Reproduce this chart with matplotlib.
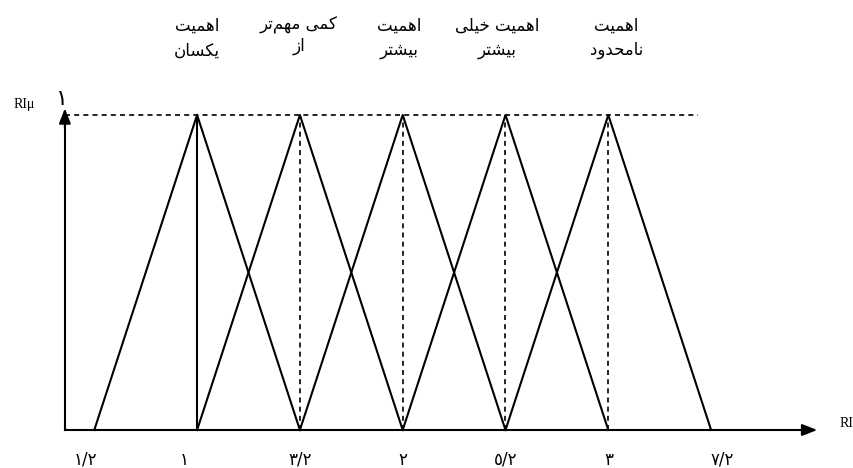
import matplotlib
matplotlib.use("Agg")
import matplotlib.pyplot as plt

# sommets des triangles et largeur a mi-hauteur
pics = [1.0, 1.5, 2.0, 2.5, 3.0]
demi = 0.5
ticks = [0.5, 1.0, 1.5, 2.0, 2.5, 3.0, 3.5]
tick_labels = ["۱/۲", "۱", "۳/۲", "۲", "٥/۲", "۳", "۷/۲"]
tick_decal = [-0.044, -0.063, 0.0, 0.0, 0.0, 0.005, 0.055]

# libelles du haut (ligne 1, ligne 2) et leur position x
titres_l1 = ["اهمیت", "کمی مهم‌تر", "اهمیت", "اهمیت خیلی", "اهمیت"]
titres_l2 = ["یکسان", "از", "بیشتر", "بیشتر", "نامحدود"]
titres_x = [1.0, 1.495, 1.985, 2.46, 3.04]

# formes: isolee, finale, initiale, mediane
FORMES = {
    'ا': ('\uFE8D', '\uFE8E', None, None),
    'ب': ('\uFE8F', '\uFE90', '\uFE91', '\uFE92'),
    'ت': ('\uFE95', '\uFE96', '\uFE97', '\uFE98'),
    'ح': ('\uFEA1', '\uFEA2', '\uFEA3', '\uFEA4'),
    'خ': ('\uFEA5', '\uFEA6', '\uFEA7', '\uFEA8'),
    'د': ('\uFEA9', '\uFEAA', None, None),
    'ر': ('\uFEAD', '\uFEAE', None, None),
    'ز': ('\uFEAF', '\uFEB0', None, None),
    'س': ('\uFEB1', '\uFEB2', '\uFEB3', '\uFEB4'),
    'ش': ('\uFEB5', '\uFEB6', '\uFEB7', '\uFEB8'),
    'ل': ('\uFEDD', '\uFEDE', '\uFEDF', '\uFEE0'),
    'م': ('\uFEE1', '\uFEE2', '\uFEE3', '\uFEE4'),
    'ن': ('\uFEE5', '\uFEE6', '\uFEE7', '\uFEE8'),
    'ه': ('\uFEE9', '\uFEEA', '\uFEEB', '\uFEEC'),
    'و': ('\uFEED', '\uFEEE', None, None),
    'ی': ('\uFBFC', '\uFBFD', '\uFBFE', '\uFBFF'),
    'ک': ('\uFB8E', '\uFB8F', '\uFB90', '\uFB91'),
}


def faconner(texte):
    # mise en forme arabe a la main, puis ordre visuel
    res = []
    n = len(texte)
    for i, c in enumerate(texte):
        if c not in FORMES:
            if c != '\u200c':
                res.append(c)
            continue
        f = FORMES[c]
        prec = texte[i-1] if i > 0 else ''
        suiv = texte[i+1] if i < n-1 else ''
        lie_avant = prec in FORMES and FORMES[prec][2] is not None
        lie_apres = f[2] is not None and suiv in FORMES
        if lie_avant and lie_apres:
            res.append(f[3])
        elif lie_avant:
            res.append(f[1])
        elif lie_apres:
            res.append(f[2])
        else:
            res.append(f[0])
    return ''.join(reversed(res))


fig = plt.figure(figsize=(8.54, 4.68), dpi=100)
ax = fig.add_axes([0, 0, 1, 1])
ax.set_xlim(0.0414, 4.195)
ax.set_ylim(-0.1206, 1.365)
ax.axis('off')

x_axe = 0.357
x_fin = 4.03
tirets = (0, (3, 2.5))

# axes avec fleches
ax.plot([x_axe, x_fin - 0.06], [0, 0], color='black', lw=1.5)
ax.plot([x_axe, x_axe], [0, 0.98], color='black', lw=1.5)
ax.annotate('', xy=(x_fin, 0), xytext=(x_fin - 0.08, 0),
            arrowprops=dict(arrowstyle='-|>,head_length=0.9,head_width=0.35', color='black', lw=1.5))
ax.annotate('', xy=(x_axe, 1.03), xytext=(x_axe, 0.95),
            arrowprops=dict(arrowstyle='-|>,head_length=0.9,head_width=0.35', color='black', lw=1.5))

# ligne pointillee horizontale au niveau 1
ax.plot([x_axe, 3.435], [1, 1], color='black', lw=1.2, ls=tirets)

# triangles
for p in pics:
    ax.plot([p - demi, p, p + demi], [0, 1, 0], color='black', lw=1.5)
    if p == pics[0]:
        ax.plot([p, p], [0, 1], color='black', lw=1.5)
    else:
        ax.plot([p, p], [0, 1], color='black', lw=1.2, ls=tirets)

# graduations
for t, lab, d in zip(ticks, tick_labels, tick_decal):
    ax.text(t + d, -0.095, lab, ha='center', va='center', fontsize=12, family='DejaVu Sans')

ax.text(0.345, 1.05, "۱", ha='center', va='center', fontsize=16, family='DejaVu Sans')
ax.text(0.158, 1.032, "RIμ", ha='center', va='center', fontsize=10, family='Liberation Serif')
ax.text(4.156, 0.022, "RI", ha='center', va='center', fontsize=10, family='Liberation Serif')

# libelles du haut
for x, l1, l2 in zip(titres_x, titres_l1, titres_l2):
    ax.text(x, 1.285, faconner(l1), ha='center', va='center', fontsize=12, family='DejaVu Sans')
    y2 = 1.22 if l2 == "از" else 1.205
    ax.text(x, y2, faconner(l2), ha='center', va='center', fontsize=12, family='DejaVu Sans')

fig.savefig('out.png', dpi=100)
